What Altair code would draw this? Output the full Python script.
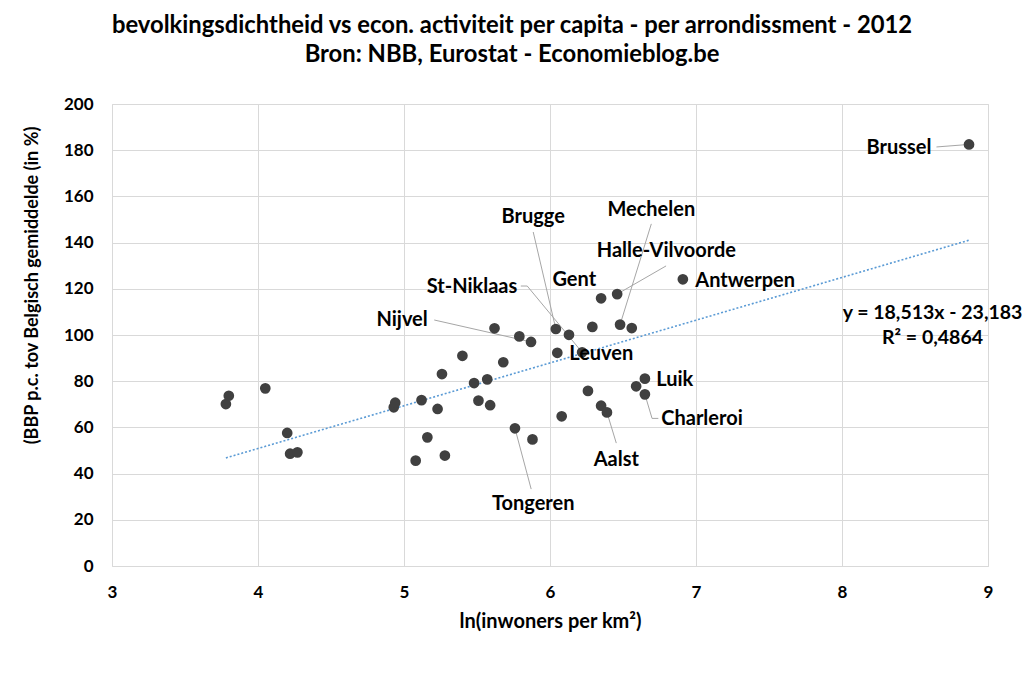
import altair as alt
import pandas as pd

# ---- data ----
ln_density = [3.78, 3.80, 4.05, 4.20, 4.22, 4.27, 4.93, 4.94, 5.08, 5.12, 5.16, 5.23, 5.26, 5.28,
              5.40, 5.48, 5.51, 5.57, 5.59, 5.62, 5.68, 5.76, 5.79, 5.87, 5.88, 6.04, 6.05, 6.08,
              6.13, 6.22, 6.26, 6.29, 6.35, 6.35, 6.39, 6.46, 6.48, 6.56, 6.59, 6.65, 6.65, 6.91, 8.87]
gdp_pc = [70.1, 73.7, 76.9, 57.6, 48.6, 49.2, 68.7, 70.7, 45.6, 71.8, 55.7, 68.0, 83.1, 47.8,
          91.0, 79.2, 71.6, 80.8, 69.6, 102.9, 88.2, 59.6, 99.4, 97.0, 54.8, 102.6, 92.3, 64.8,
          100.1, 92.5, 75.8, 103.5, 115.9, 69.4, 66.5, 117.7, 104.5, 103.0, 77.8, 81.1, 74.3, 124.1, 182.5]

# labels (text anchor in data units) and alignment
label_names = ["Brussel", "Antwerpen", "Mechelen", "Halle-Vilvoorde", "Gent", "Brugge", "St-Niklaas",
               "Leuven", "Nijvel", "Luik", "Charleroi", "Aalst", "Tongeren"]
label_x = [8.613, 6.995, 6.694, 6.797, 6.166, 5.885, 5.776, 6.132, 4.987, 6.728, 6.762, 6.454, 5.885]
label_y = [181.0, 123.4, 154.1, 136.4, 123.8, 151.1, 120.8, 91.8, 106.5, 80.5, 63.6, 45.9, 26.8]
label_align = ["right", "left", "center", "center", "center", "center", "right", "left", "center",
               "left", "left", "center", "center"]

# leader lines: (name, seq, x, y)
leader_name = ["Brussel", "Brussel", "Mechelen", "Mechelen", "Halle-Vilvoorde", "Halle-Vilvoorde",
               "Brugge", "Brugge", "St-Niklaas", "St-Niklaas", "St-Niklaas", "Nijvel", "Nijvel",
               "Charleroi", "Charleroi", "Charleroi", "Aalst", "Aalst", "Tongeren", "Tongeren"]
leader_seq = [0, 1, 0, 1, 0, 1, 0, 1, 0, 1, 2, 0, 1, 0, 1, 2, 0, 1, 0, 1]
leader_x = [8.647, 8.87, 6.694, 6.48, 6.795, 6.46, 5.885, 6.04, 5.80, 5.844, 6.207, 5.207, 5.87,
            6.742, 6.699, 6.65, 6.454, 6.39, 5.871, 5.76]
leader_y = [181.4, 182.5, 148.1, 104.5, 129.9, 117.7, 144.6, 102.6, 121.2, 121.2, 93.5, 106.5, 97.0,
            63.9, 63.9, 74.3, 53.2, 66.5, 33.3, 59.6]

slope, intercept = 18.513, -23.183
trend_x = [min(ln_density), max(ln_density)]
eq_lines = ["y = 18,513x - 23,183", "R² = 0,4864"]
eq_x = [8.62, 8.62]
eq_y = [109.5, 98.7]

title_lines = ["bevolkingsdichtheid vs econ. activiteit per capita - per arrondissment - 2012",
               "Bron: NBB, Eurostat - Economieblog.be"]

FONT = "Lato"
pts = pd.DataFrame({"x": ln_density, "y": gdp_pc})
labels = pd.DataFrame({"name": label_names, "x": label_x, "y": label_y, "align": label_align})
leaders = pd.DataFrame({"name": leader_name, "seq": leader_seq, "x": leader_x, "y": leader_y})
trend = pd.DataFrame({"x": trend_x, "y": [slope * v + intercept for v in trend_x]})
eq = pd.DataFrame({"t": eq_lines, "x": eq_x, "y": eq_y})

xs = alt.Scale(domain=[3, 9], nice=False, zero=False)
ys = alt.Scale(domain=[0, 200], nice=False)

xaxis = alt.Axis(values=[3, 4, 5, 6, 7, 8, 9], format="d", labelFlush=False, grid=True, gridColor="#d9d9d9",
                 domain=False, ticks=False,
                 labelFont=FONT, labelFontSize=17, labelFontWeight="bold", labelColor="#000000",
                 labelPadding=18, title="ln(inwoners per km²)", titleFont=FONT, titleFontSize=20,
                 titleFontWeight="bold", titleColor="#000000", titlePadding=11)
yaxis = alt.Axis(values=list(range(0, 201, 20)), grid=True, gridColor="#d9d9d9", domain=False, ticks=False,
                 labelFlush=False,
                 labelFont=FONT, labelFontSize=17, labelFontWeight="bold", labelColor="#000000",
                 labelPadding=19, title="(BBP p.c. tov Belgisch gemiddelde (in %)", titleFont=FONT,
                 titleFontSize=18, titleFontWeight="bold", titleColor="#000000", titlePadding=22,
                 titleY=181)

base_pts = alt.Chart(pts).mark_circle(size=115, color="#404040", opacity=1).encode(
    x=alt.X("x:Q", scale=xs, axis=xaxis),
    y=alt.Y("y:Q", scale=ys, axis=yaxis),
)

trend_line = alt.Chart(trend).mark_line(color="#5b9bd5", strokeDash=[2, 2], strokeWidth=1.6).encode(
    x=alt.X("x:Q", scale=xs), y=alt.Y("y:Q", scale=ys))

leader_lines = alt.Chart(leaders).mark_line(color="#a6a6a6", strokeWidth=1).encode(
    x=alt.X("x:Q", scale=xs), y=alt.Y("y:Q", scale=ys), detail="name:N", order="seq:Q")

layers = [trend_line, leader_lines, base_pts]
for a in ["left", "center", "right"]:
    sub = labels[labels["align"] == a]
    layers.append(alt.Chart(sub).mark_text(font=FONT, fontSize=20, fontWeight="bold", color="#000000",
                                           align=a, baseline="middle").encode(
        x=alt.X("x:Q", scale=xs), y=alt.Y("y:Q", scale=ys), text="name:N"))

eq_text = alt.Chart(eq).mark_text(font=FONT, fontSize=19.5, fontWeight="bold", color="#000000",
                                  align="center", baseline="middle").encode(
    x=alt.X("x:Q", scale=xs), y=alt.Y("y:Q", scale=ys), text="t:N")
layers.append(eq_text)

chart = alt.layer(*layers).properties(
    width=876, height=462,
    title=alt.TitleParams(text=title_lines, anchor="middle", font=FONT, fontSize=23.8, fontWeight="bold",
                          color="#000000", dx=-38, offset=28, lineHeight=29),
    autosize=alt.AutoSizeParams(type="none"),
    padding={"left": 112, "top": 104, "right": 36, "bottom": 107},
).configure_view(stroke=None).configure(background="white")

chart.save("out.html", embed_options={"renderer": "svg", "actions": False})
